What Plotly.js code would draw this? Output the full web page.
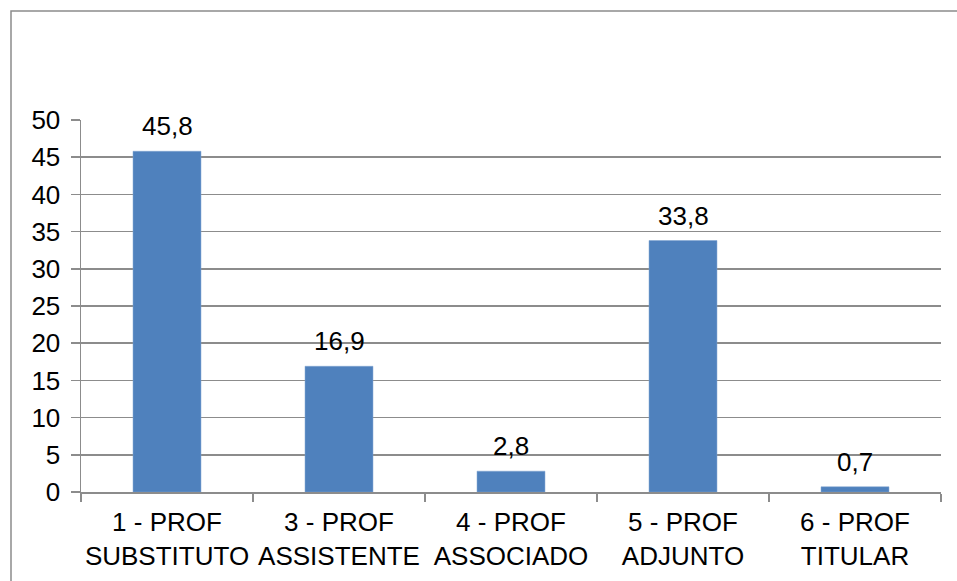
<!DOCTYPE html>
<html>
<head>
<meta charset="utf-8">
<script src="https://cdn.plot.ly/plotly-3.0.1.min.js"></script>
<style>html,body{margin:0;padding:0;background:#fff;}#chart{width:957px;height:581px;}</style>
</head>
<body>
<div id="chart"></div>
<script>
var categories = ["1 - PROF<br>SUBSTITUTO", "3 - PROF<br>ASSISTENTE", "4 - PROF<br>ASSOCIADO", "5 - PROF<br>ADJUNTO", "6 - PROF<br>TITULAR"];
var values = [45.8, 16.9, 2.8, 33.8, 0.7];
var yTicks = [0, 5, 10, 15, 20, 25, 30, 35, 40, 45, 50];

var FONT = "Liberation Sans, Arial, sans-serif";
var GRID = "#8c8c8c";

var annotations = categories.map(function (c, i) {
  return {
    x: c, y: values[i], xref: "x", yref: "y",
    text: values[i].toFixed(1).replace(".", ","),
    showarrow: false, yanchor: "bottom", yshift: 8,
    font: {family: FONT, size: 26, color: "#000"}
  };
});

var trace = {
  type: "bar",
  x: categories,
  y: values,
  marker: {color: "#4F81BD", line: {color: "#7fa3d0", width: 0.5}},
  hoverinfo: "none"
};

var layout = {
  width: 957, height: 581,
  margin: {l: 81, r: 16, t: 120, b: 89},
  paper_bgcolor: "#fff", plot_bgcolor: "#fff",
  showlegend: false,
  bargap: 0.605,
  font: {family: FONT, size: 26, color: "#000"},
  xaxis: {
    type: "category",
    showgrid: false,
    showline: true, linecolor: GRID, linewidth: 1.5,
    ticks: "outside", tickson: "boundaries", ticklen: 8, tickcolor: GRID, tickwidth: 1.5,
    tickfont: {family: FONT, size: 26, color: "#000"},
    tickangle: 0,
    ticklabelstandoff: 6,
    fixedrange: true
  },
  yaxis: {
    range: [0, 50],
    tickvals: yTicks,
    ticktext: yTicks.map(String),
    showgrid: true, gridcolor: GRID, gridwidth: 1.5,
    showline: true, linecolor: GRID, linewidth: 1.5,
    ticks: "outside", ticklen: 9, tickcolor: GRID, tickwidth: 1.5,
    tickfont: {family: FONT, size: 26, color: "#000"},
    ticklabelstandoff: 5,
    zeroline: false,
    fixedrange: true
  },
  annotations: annotations,
  shapes: [{
    type: "rect", xref: "paper", yref: "paper",
    x0: -70 / 860, x1: 1.2, y0: -0.5, y1: 481 / 372,
    line: {color: "#8c8c8c", width: 1.5}, fillcolor: "rgba(0,0,0,0)", layer: "below"
  }]
};

Plotly.newPlot("chart", [trace], layout, {displayModeBar: false, staticPlot: true});
</script>
</body>
</html>
